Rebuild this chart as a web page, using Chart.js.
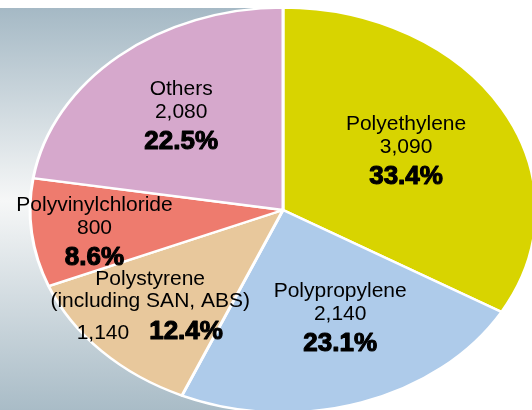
<!DOCTYPE html>
<html lang="en">
<head>
<meta charset="UTF-8">
<title>Plastics production</title>
<style>
  html, body { margin: 0; padding: 0; overflow: hidden; background: #fff; }
  #wrap { width: 532px; height: 410px; position: relative; }
</style>
</head>
<body>
<div id="wrap"><canvas id="chart"></canvas></div>
<script src="https://cdn.jsdelivr.net/npm/chart.js"></script>
<script>
const materials = ['Polyethylene', 'Polypropylene', 'Polystyrene\n(including SAN, ABS)', 'Polyvinylchloride', 'Others'];
const amounts = [3090, 2140, 1140, 800, 2080];
const shares = [33.4, 23.1, 12.4, 8.6, 22.5];

const colors = ['#d8d400', '#aecbea', '#e8c89c', '#ee7b6e', '#d6a8cc'];
// where each label block sits: fraction of radius along the mid angle, then small nudge
const labelReach = [0.57, 0.575, 0.70, 0.75, 0.62];
const labelNudge = [[-2, -3], [12, -4], [-6, -4], [0, 3], [0, 0]];
const squash = 0.8; // pie is drawn as an ellipse

const font = '"Liberation Sans", Arial, Helvetica, sans-serif';

// bold share text, thickened a little with a stroke
function heavyText(ctx, txt, x, y) {
    ctx.font = 'bold 26px ' + font;
    ctx.lineWidth = 1.1;
    ctx.strokeStyle = '#000';
    ctx.lineJoin = 'round';
    ctx.strokeText(txt, x, y);
    ctx.fillText(txt, x, y);
}

const ellipsePie = {
    id: 'ellipsePie',
    beforeDraw(chart) {
        const ctx = chart.ctx;
        const arc = chart.getDatasetMeta(0).data[0];
        ctx.save();
        ctx.fillStyle = '#fff';
        ctx.fillRect(0, 0, chart.width, chart.height);
        const g = ctx.createLinearGradient(0, 8, 0, chart.height);
        g.addColorStop(0, '#a5b9c5');
        g.addColorStop(0.48, '#f6f7f7');
        g.addColorStop(1, '#a9bcc7');
        ctx.fillStyle = g;
        ctx.fillRect(0, 8, arc.x + 1, chart.height - 8);
        ctx.restore();
    },
    beforeDatasetsDraw(chart) {
        const ctx = chart.ctx;
        const arc = chart.getDatasetMeta(0).data[0];
        ctx.save();
        ctx.translate(arc.x, arc.y);
        ctx.scale(1, squash);
        ctx.translate(-arc.x, -arc.y);
    },
    afterDatasetsDraw(chart) {
        const ctx = chart.ctx;
        ctx.restore();

        ctx.save();
        ctx.fillStyle = '#000';
        ctx.textBaseline = 'alphabetic';
        chart.getDatasetMeta(0).data.forEach((arc, i) => {
            const mid = (arc.startAngle + arc.endAngle) / 2;
            const r = arc.outerRadius * labelReach[i];
            const ax = arc.x + Math.cos(mid) * r + labelNudge[i][0];
            const ay = arc.y + Math.sin(mid) * r * squash + labelNudge[i][1];

            const names = materials[i].split('\n');
            const value = amounts[i].toLocaleString('en-US');
            const pct = shares[i].toFixed(1) + '%';
            const inline = names.length > 1;

            // baselines relative to first line
            let offs = names.map((n, k) => k * 22);
            let last = offs[offs.length - 1];
            let valueOff, pctOff;
            if (inline) {
                valueOff = pctOff = last + 32;
            } else {
                valueOff = last + 23;
                pctOff = valueOff + 31;
            }
            const b1 = ay - (pctOff - 15) / 2;

            ctx.font = '21px ' + font;
            ctx.textAlign = 'center';
            names.forEach((n, k) => ctx.fillText(n, ax, b1 + offs[k]));

            if (inline) {
                ctx.textAlign = 'right';
                ctx.fillText(value, ax - 21, b1 + valueOff);
                ctx.textAlign = 'left';
                heavyText(ctx, pct, ax - 1, b1 + pctOff);
            } else {
                ctx.fillText(value, ax, b1 + valueOff);
                heavyText(ctx, pct, ax, b1 + pctOff);
            }
        });
        ctx.restore();
    }
};

new Chart(document.getElementById('chart'), {
    type: 'pie',
    data: {
        labels: materials,
        datasets: [{
            data: amounts,
            backgroundColor: colors,
            borderColor: '#fff',
            borderWidth: 3,
            radius: 253,
            clip: false
        }]
    },
    options: {
        responsive: true,
        maintainAspectRatio: false,
        animation: false,
        devicePixelRatio: 1,
        layout: { padding: { left: 34, top: 10, right: 0, bottom: 0 } },
        plugins: {
            legend: { display: false },
            tooltip: { enabled: false }
        },
        events: []
    },
    plugins: [ellipsePie]
});
</script>
</body>
</html>
